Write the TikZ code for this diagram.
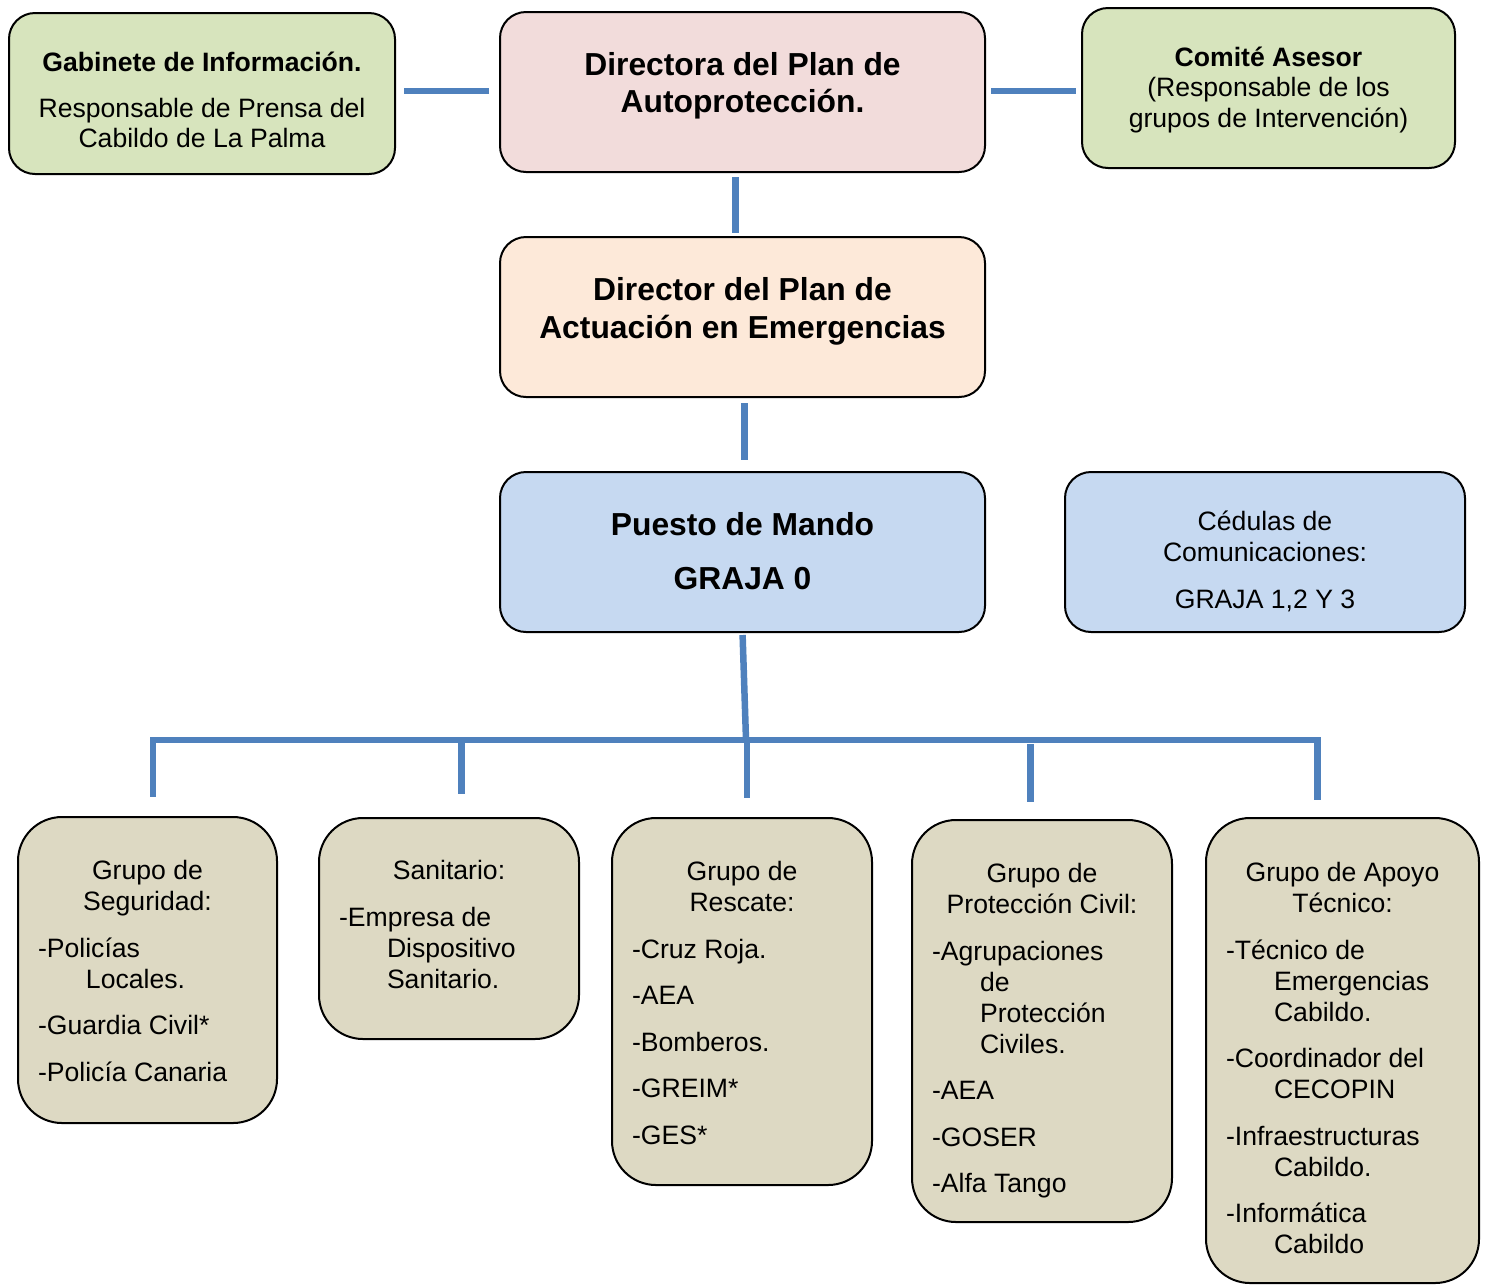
\documentclass[tikz,border=0pt]{standalone}
\usepackage{fontspec}
\setmainfont{Liberation Sans}
\definecolor{grn}{HTML}{D7E4BD}
\definecolor{pnk}{HTML}{F2DCDB}
\definecolor{pch}{HTML}{FDE9D9}
\definecolor{blu}{HTML}{C6D9F1}
\definecolor{tan}{HTML}{DDD9C3}
\definecolor{lineblue}{HTML}{4F81BD}
\newcommand\ttl[1]{{\centering #1\par}}
\newcommand\itm[1]{\vspace{7.75pt}{\raggedright\leftskip=10pt\relax\hangindent=24pt\hangafter=1 #1\par}}
\newcommand\lowtext[4]{\parbox[c][#2][t]{#1}{\vspace*{#3}\fontsize{13.3}{15.5}\selectfont\parindent=0pt #4}}
\begin{document}
\begin{tikzpicture}[x=0.5pt,y=-0.5pt,
  box/.style={draw=black, line width=1pt, rounded corners=13pt, inner sep=0pt, outer sep=0pt, anchor=north west},
  lowbox/.style={box, rounded corners=22pt, fill=tan},
  conn/.style={draw=lineblue, line width=3.25pt}]
\useasboundingbox (0,0) rectangle (1486,1286);

% top row
\node[box, fill=grn] (gab) at (9,13) {\parbox[c][80.5pt][t]{193pt}{\centering\vspace*{19.7pt}\fontsize{13.3}{15}\selectfont
  \textbf{Gabinete de Información.}\par\vspace{7.8pt}Responsable de Prensa del\\Cabildo de La Palma\par}};
\node[box, fill=pnk] (dira) at (500,12) {\parbox[c][80pt][t]{242.5pt}{\centering\vspace*{20.2pt}\fontsize{15.9}{18.3}\selectfont\bfseries
  Directora del Plan de\\Autoprotección.\par}};
\node[box, fill=grn] (com) at (1082,8) {\parbox[c][80pt][t]{186.5pt}{\centering\vspace*{19.5pt}\fontsize{13.3}{15.2}\selectfont
  \textbf{Comité Asesor}\\(Responsable de los\\grupos de Intervención)\par}};

% middle
\node[box, fill=pch] (dire) at (500,237) {\parbox[c][80pt][t]{242.5pt}{\centering\vspace*{20.2pt}\fontsize{15.9}{18.9}\selectfont\bfseries
  Director del Plan de\\Actuación en Emergencias\par}};
\node[box, fill=blu] (pm) at (500,472) {\parbox[c][80pt][t]{242.5pt}{\centering\vspace*{20.3pt}\fontsize{15.9}{18.5}\selectfont\bfseries
  Puesto de Mando\par\vspace{8.2pt}GRAJA 0\par}};
\node[box, fill=blu] (ced) at (1065,472) {\parbox[c][80pt][t]{200pt}{\centering\vspace*{19.5pt}\fontsize{13.3}{15.5}\selectfont
  Cédulas de\\Comunicaciones:\par\vspace{7.8pt}GRAJA 1,2 Y 3\par}};

% lower groups
\node[lowbox] (g1) at (18,817) {\lowtext{129.5pt}{153pt}{21.75pt}{%
  \ttl{Grupo de\\Seguridad:}\itm{-Policías\newline Locales.}\itm{-Guardia Civil*}\itm{-Policía Canaria}}};
\node[lowbox] (g2) at (319,818) {\lowtext{130pt}{110.5pt}{21.25pt}{%
  \ttl{Sanitario:}\itm{-Empresa de\newline Dispositivo\newline Sanitario.}}};
\node[lowbox] (g3) at (612,818) {\lowtext{130pt}{183.5pt}{21.75pt}{%
  \ttl{Grupo de\\Rescate:}\itm{-Cruz Roja.}\itm{-AEA}\itm{-Bomberos.}\itm{-GREIM*}\itm{-GES*}}};
\node[lowbox] (g4) at (912,820) {\lowtext{130pt}{201pt}{21.75pt}{%
  \ttl{Grupo de\\Protección Civil:}\itm{-Agrupaciones\newline de\newline Protección\newline Civiles.}\itm{-AEA}\itm{-GOSER}\itm{-Alfa Tango}}};
\node[lowbox] (g5) at (1206,818) {\lowtext{136.5pt}{232.5pt}{22.25pt}{%
  \ttl{Grupo de Apoyo\\Técnico:}\itm{-Técnico de\newline Emergencias\newline Cabildo.}\itm{-Coordinador del\newline CECOPIN}\itm{-Infraestructuras\newline Cabildo.}\itm{-Informática\newline Cabildo}}};

% connectors (top)
\draw[conn, shorten <=5.5pt, shorten >=4.5pt] ([yshift=0.5pt]dira.west) -- ([yshift=0.5pt]dira.west -| gab.east);
\draw[conn, shorten <=3pt, shorten >=3pt] ([yshift=0.5pt]dira.east) -- ([yshift=0.5pt]dira.east -| com.west);
\draw[conn, shorten <=2.5pt, shorten >=2pt] ([xshift=-3.5pt]dira.south) -- ([xshift=-3.5pt]dire.north);
\draw[conn, shorten <=3pt, shorten >=6pt] ([xshift=1pt]dire.south) -- ([xshift=1pt]pm.north);

% tree
\coordinate (bus) at (746,740);
\coordinate (busL) at (150,740);
\coordinate (busR) at (1321,740);
\coordinate (t1) at (153,740);
\coordinate (t2) at (461.5,740);
\coordinate (t3) at (747,740);
\coordinate (t4) at (1030.5,744);
\coordinate (t5) at (1317.5,740);
\draw[conn, shorten <=1.5pt] (pm.south) -- (bus);
\draw[conn] (busL) -- (busR);
\draw[conn, shorten >=10pt] (t1) -- (t1 |- g1.north);
\draw[conn, shorten >=12pt] (t2) -- (t2 |- g2.north);
\draw[conn, shorten >=10pt] (t3) -- (t3 |- g3.north);
\draw[conn, shorten >=9pt] (t4) -- (t4 |- g4.north);
\draw[conn, shorten >=9pt] (t5) -- (t5 |- g5.north);
\end{tikzpicture}
\end{document}
